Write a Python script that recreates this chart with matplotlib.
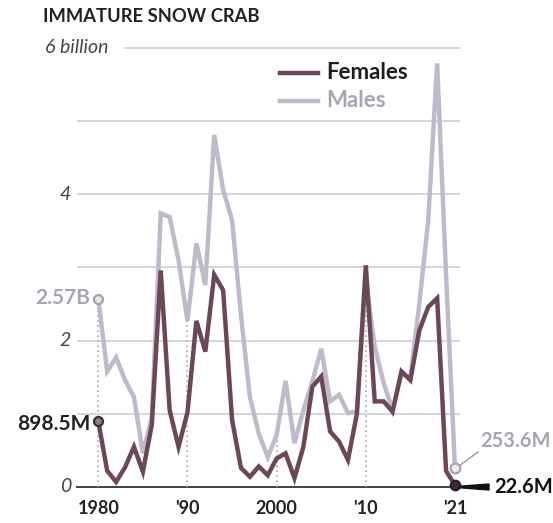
import numpy as np
import matplotlib
matplotlib.use('Agg')
import matplotlib.pyplot as plt
from matplotlib.patches import Polygon

# ---- data (billions); survey skipped 2020 ----
years = [str(y) for y in range(1980, 2020)] + ['2021']
females = [0.8985, 0.22, 0.07, 0.27, 0.55, 0.21, 0.85, 2.96, 1.05, 0.55,
           1.02, 2.27, 1.85, 2.90, 2.69, 0.92, 0.26, 0.14, 0.28, 0.16,
           0.39, 0.46, 0.12, 0.55, 1.37, 1.51, 0.76, 0.62, 0.37, 1.00,
           3.03, 1.17, 1.17, 1.03, 1.58, 1.46, 2.14, 2.46, 2.58, 0.22,
           0.0226]
males = [2.57, 1.58, 1.77, 1.46, 1.23, 0.46, 0.95, 3.74, 3.69, 3.10,
         2.27, 3.33, 2.76, 4.81, 4.06, 3.65, 2.35, 1.23, 0.73, 0.41,
         0.71, 1.45, 0.60, 1.05, 1.44, 1.89, 1.17, 1.26, 1.01, 1.03,
         2.85, 1.92, 1.42, 1.05, 1.55, 1.50, 2.50, 3.65, 5.79, 2.90,
         0.2536]
tick_idx = [0, 10, 20, 30, 40]
tick_labels = ['1980', "'90", '2000', "'10", "'21"]
ylab_vals = [0, 2, 4]
ylab_text = ['0', '2', '4']
title = 'IMMATURE SNOW CRAB'

FEM = '#6b4858'
MAL = '#bdbacb'
GREYTXT = '#a7a5b3'
FONT = 'Lato'

W, H = 553, 523
fig = plt.figure(figsize=(W / 100, H / 100), dpi=100)

def xd(px):
    return (px - 98.3) / 8.917

def yd(py):
    return (487 - py) / 73.17

ax = fig.add_axes([77 / W, (H - 501.6) / H, 383 / W, (501.6 - 40.7) / H])
ax.set_xlim(xd(77), xd(460))
ax.set_ylim(yd(501.6), yd(40.7))
ax.axis('off')

x = np.arange(len(years))

# gridlines
for v in [1, 2, 3, 4, 5]:
    ax.axhline(v, color='#cacaca', lw=1.1, zorder=0)
ax.plot([xd(125), xd(460)], [6, 6], color='#cacaca', lw=1.1, zorder=0)
# zero line
ax.plot([xd(77), x[-1]], [0, 0], color='#333333', lw=1.3, zorder=1, clip_on=False)

# dotted drop lines
for i in tick_idx[:-1]:
    ax.vlines(i, 0, max(males[i], females[i]), colors='#a9a9a9',
              linestyles=(0, (1, 2)), lw=1.2, zorder=1)

ax.plot(x, males, color=MAL, lw=3.2, solid_joinstyle='miter', zorder=2)
ax.plot(x, females, color=FEM, lw=3.2, solid_joinstyle='miter', zorder=3)

# markers
ax.plot(0, males[0], 'o', ms=6.5, mfc='#e6e4ec', mec='#a5a3b2', mew=1.6, zorder=4, clip_on=False)
ax.plot(0, females[0], 'o', ms=6.5, mfc='#8e7c88', mec='#3e2e38', mew=1.6, zorder=4, clip_on=False)
ax.plot(x[-1], males[-1], 'o', ms=7, mfc='#eceaf0', mec='#a5a3b2', mew=1.6, zorder=4, clip_on=False)
ax.plot(x[-1], females[-1], 'o', ms=7, mfc='#3a2a34', mec='#2a1c26', mew=1.4, zorder=5, clip_on=False)

# y labels
for v, t in zip(ylab_vals, ylab_text):
    ax.text(xd(71), v, t, ha='right', va='center', fontsize=14, style='italic',
            color='#444444', family=FONT)
ax.text(xd(45), 6, '6 billion', ha='left', va='center', fontsize=14, style='italic',
        color='#444444', family=FONT)

# x labels
for i, t in zip(tick_idx, tick_labels):
    ax.text(i, yd(509), t, ha='center', va='center', fontsize=13, fontweight='bold',
            color='#222222', family=FONT)

# title
fig.text(43 / W, 1 - 16 / H, title, ha='left', va='center', fontsize=13.2,
         fontweight='bold', color='#222222', family=FONT)

# legend
ax.plot([xd(280), xd(318)], [yd(73), yd(73)], color=FEM, lw=3.2)
ax.plot([xd(280), xd(318)], [yd(101), yd(101)], color=MAL, lw=3.2)
ax.text(xd(326), yd(73), 'Females', ha='left', va='center', fontsize=16,
        fontweight='bold', color='#1e1e1e', family=FONT)
ax.text(xd(326), yd(101), 'Males', ha='left', va='center', fontsize=16,
        fontweight='bold', color=GREYTXT, family=FONT)

# annotations
ax.text(xd(90), yd(298), '2.57B', ha='right', va='center', fontsize=15,
        fontweight='bold', color=GREYTXT, family=FONT)
ax.text(xd(90), yd(424), '898.5M', ha='right', va='center', fontsize=15,
        fontweight='bold', color='#222222', family=FONT)
ax.text(xd(480), yd(441), '253.6M', ha='left', va='center', fontsize=14.5,
        fontweight='bold', color=GREYTXT, family=FONT, clip_on=False)
ax.plot([xd(459), xd(478)], [yd(466), yd(452)], color='#a5a3b2', lw=1.2, clip_on=False)
ax.text(xd(494), yd(487), '22.6M', ha='left', va='center', fontsize=14.5,
        fontweight='bold', color='#111111', family=FONT, clip_on=False)
wedge = Polygon([[xd(459), yd(486.3)], [xd(459), yd(487.7)],
                 [xd(489), yd(490)], [xd(489), yd(484)]],
                closed=True, color='#111111', clip_on=False, zorder=4)
ax.add_patch(wedge)

fig.savefig('out.png', dpi=100)
